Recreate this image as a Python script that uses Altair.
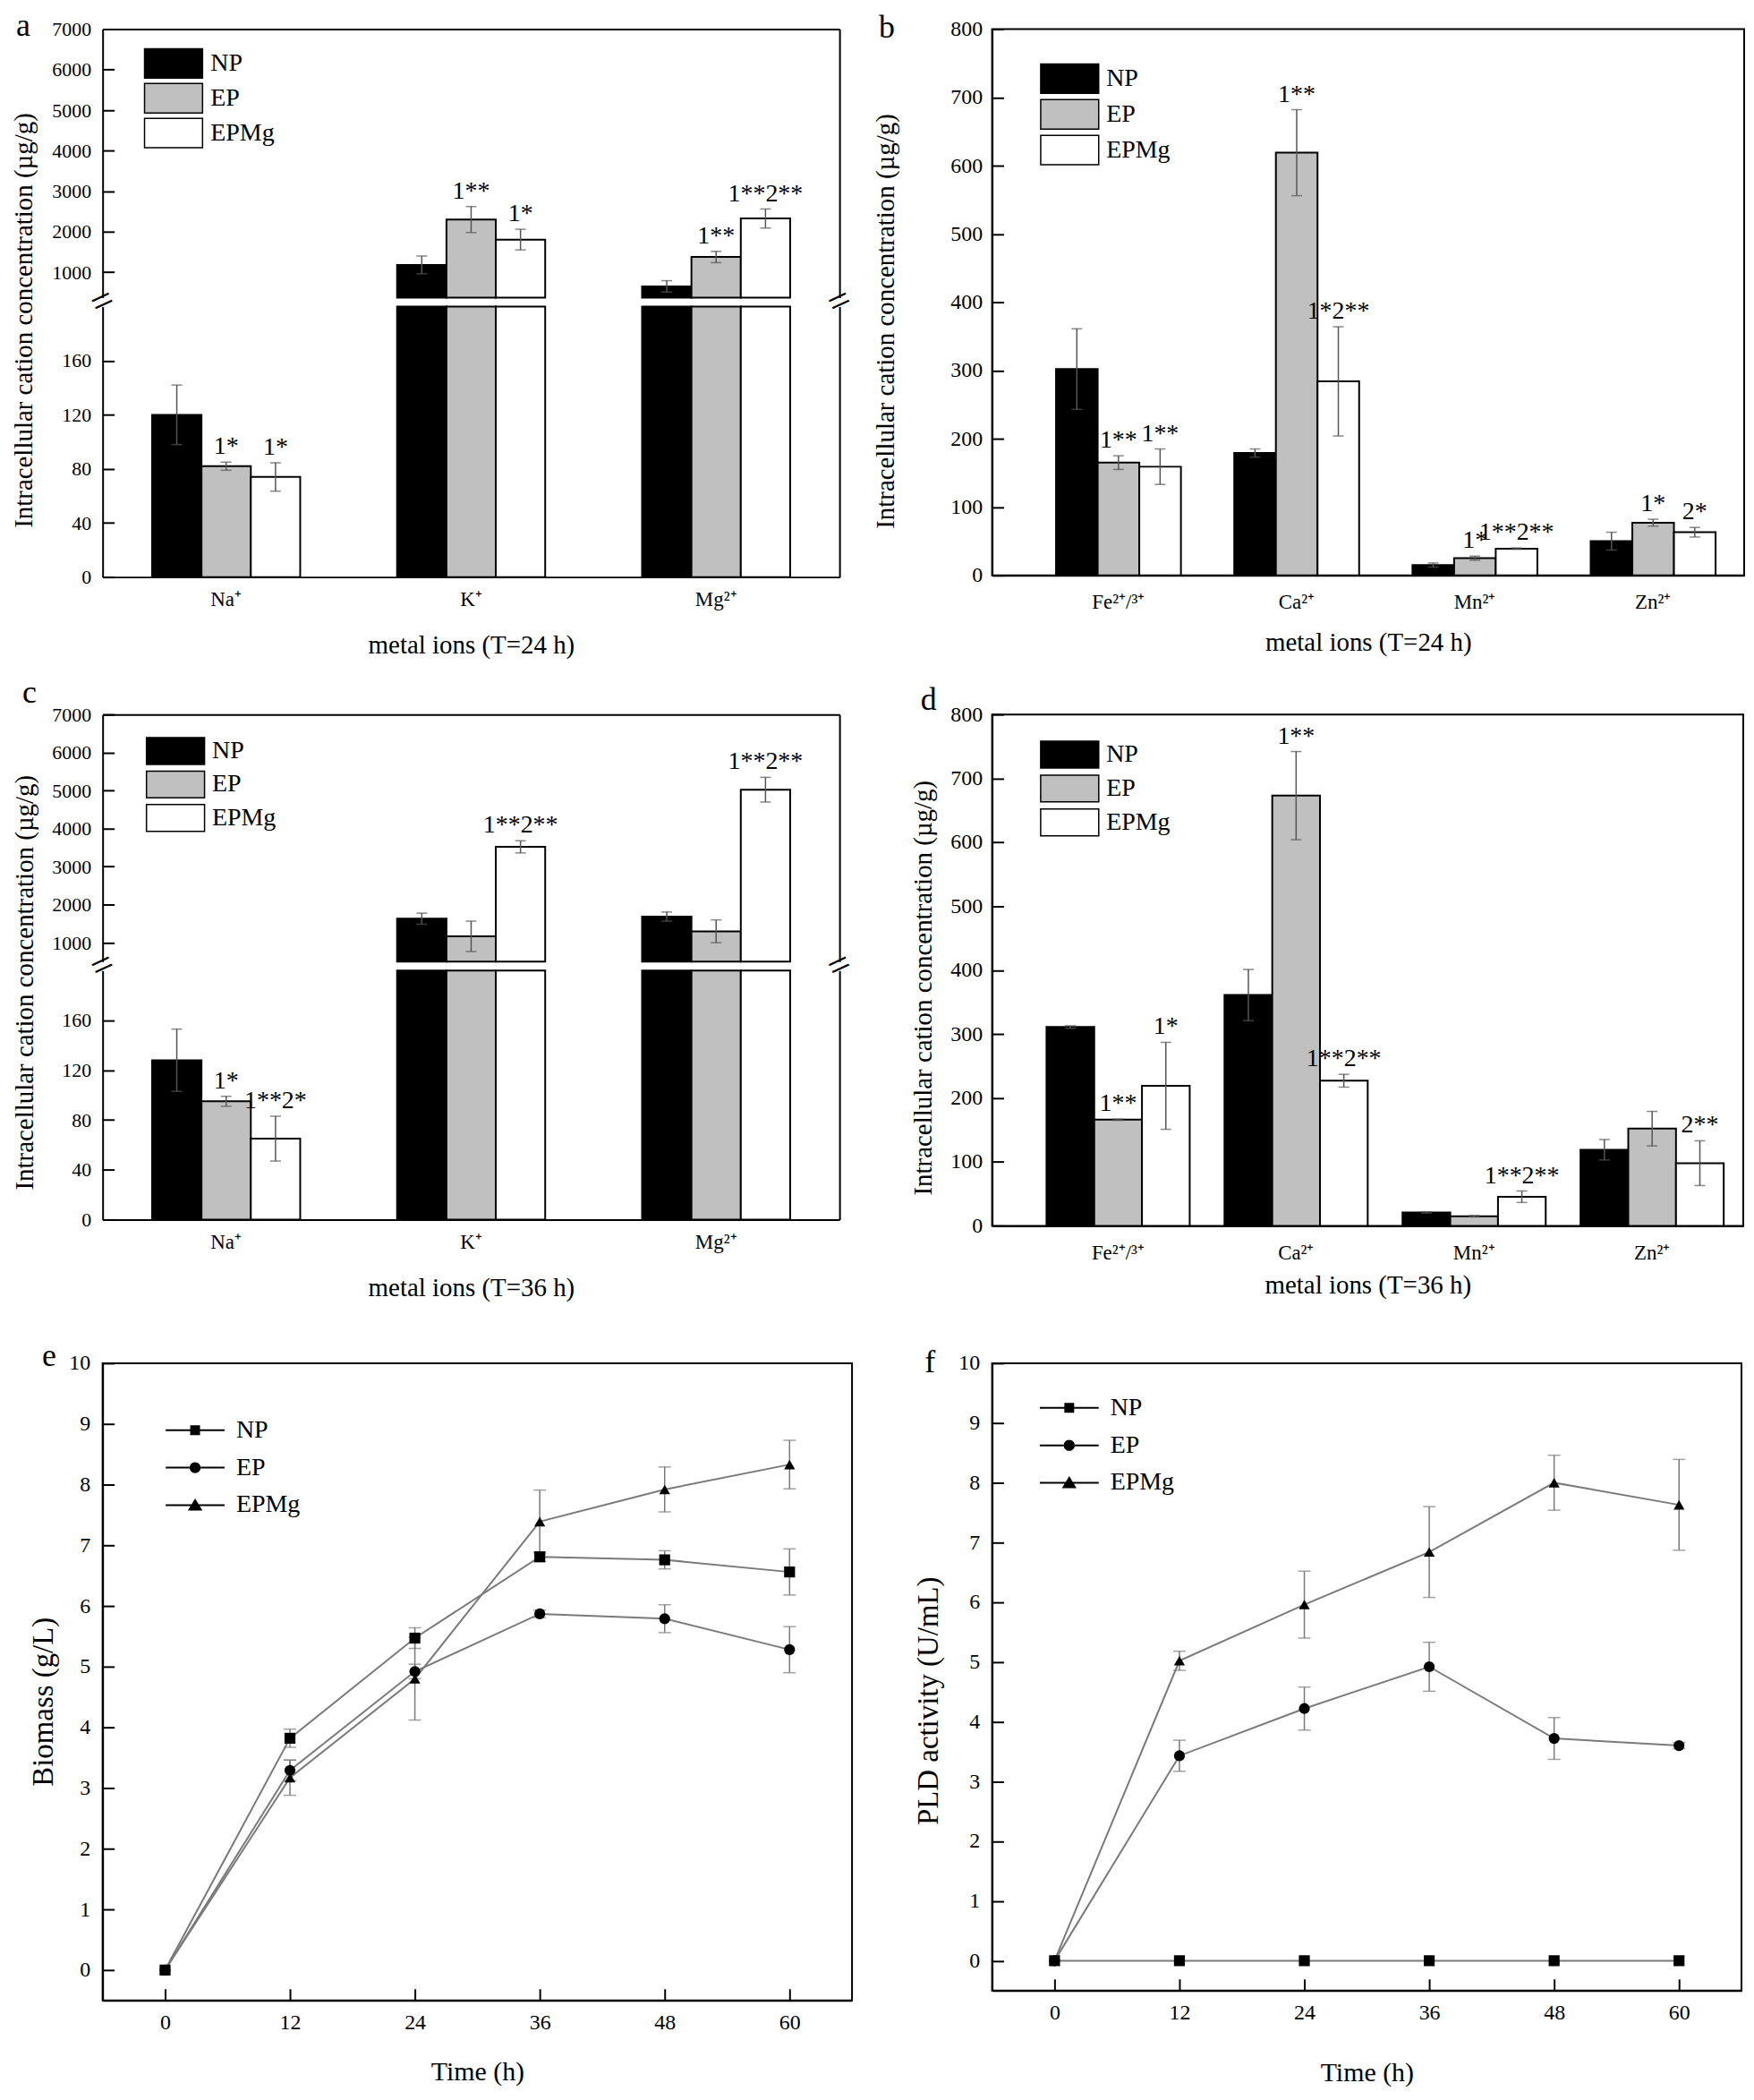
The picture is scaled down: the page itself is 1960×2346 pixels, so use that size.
import altair as alt
import pandas as pd

FONT = "Liberation Serif"
GROUPS = ["NP", "EP", "EPMg"]
BAR_FILL = ["#000000", "#c0c0c0", "#ffffff"]
ERR_COLOR = "#555555"
LINE_COLOR = "#7a7a7a"
PANEL_LETTERS = ["a", "b", "c", "d", "e", "f"]
YTITLE = "Intracellular cation concentration (µg/g)"

# ---------------- panel a : T = 24 h, major ions ----------------
a_ions = ["Na⁺", "K⁺", "Mg²⁺"]
a_np = [120, 1180, 650]
a_np_err = [22, 220, 140]
a_ep = [82, 2300, 1375]
a_ep_err = [3, 320, 140]
a_epmg = [74, 1805, 2325]
a_epmg_err = [10.5, 255, 235]
a_ep_sig = ["1*", "1**", "1**"]
a_epmg_sig = ["1*", "1*", "1**2**"]

# ---------------- panel b : T = 24 h, trace ions ----------------
b_ions = ["Fe²⁺/³⁺", "Ca²⁺", "Mn²⁺", "Zn²⁺"]
b_np = [302, 179, 15, 50]
b_np_err = [59, 6, 3, 13]
b_ep = [165, 619, 25, 77]
b_ep_err = [10, 63, 3, 5]
b_epmg = [159, 284, 39, 63]
b_epmg_err = [26, 80, 1, 7]
b_ep_sig = ["1**", "1**", "1*", "1*"]
b_epmg_sig = ["1**", "1*2**", "1**2**", "2*"]

# ---------------- panel c : T = 36 h, major ions ----------------
c_ions = ["Na⁺", "K⁺", "Mg²⁺"]
c_np = [128, 1630, 1685]
c_np_err = [25, 145, 120]
c_ep = [95, 1166, 1298]
c_ep_err = [4, 400, 300]
c_epmg = [65, 3519, 5022]
c_epmg_err = [18, 160, 325]
c_ep_sig = ["1*", "", ""]
c_epmg_sig = ["1**2*", "1**2**", "1**2**"]

# ---------------- panel d : T = 36 h, trace ions ----------------
d_ions = ["Fe²⁺/³⁺", "Ca²⁺", "Mn²⁺", "Zn²⁺"]
d_np = [311, 361, 21, 119]
d_np_err = [2, 40, 1, 16]
d_ep = [166, 673, 15, 152]
d_ep_err = [1, 69, 1, 27]
d_epmg = [219, 227, 45.5, 98]
d_epmg_err = [68, 10, 9, 35]
d_ep_sig = ["1**", "1**", "", ""]
d_epmg_sig = ["1*", "1**2**", "1**2**", "2**"]

# ---------------- panel e : biomass ----------------
times = [0, 12, 24, 36, 48, 60]
e_np = [0.0, 3.82, 5.47, 6.81, 6.76, 6.56]
e_np_err = [0, 0.15, 0.17, 0.08, 0.15, 0.38]
e_ep = [0.0, 3.29, 4.92, 5.87, 5.79, 5.28]
e_ep_err = [0, 0.17, 0.12, 0.06, 0.23, 0.38]
e_epmg = [0.0, 3.17, 4.80, 7.39, 7.92, 8.33]
e_epmg_err = [0, 0.29, 0.68, 0.52, 0.37, 0.40]

# ---------------- panel f : PLD activity ----------------
f_np = [0, 0, 0, 0, 0, 0]
f_np_err = [0, 0, 0, 0, 0, 0]
f_ep = [0.0, 3.43, 4.22, 4.92, 3.72, 3.60]
f_ep_err = [0, 0.26, 0.36, 0.41, 0.35, 0.05]
f_epmg = [0.0, 5.02, 5.96, 6.84, 8.00, 7.63]
f_epmg_err = [0, 0.16, 0.56, 0.76, 0.46, 0.76]

LEG_PATHS = [
    "M-3.3,-0.1H-0.55V0.1H-3.3Z M0.55,-0.1H3.3V0.1H0.55Z M-0.55,-0.55H0.55V0.55H-0.55Z",
    "M-3.3,-0.1H-0.6V0.1H-3.3Z M0.6,-0.1H3.3V0.1H0.6Z "
    "M-0.62,0A0.62,0.62,0,1,0,0.62,0A0.62,0.62,0,1,0,-0.62,0Z",
    "M-3.3,-0.1H-0.4V0.1H-3.3Z M0.4,-0.1H3.3V0.1H0.4Z M0,-0.75L0.82,0.6H-0.82Z",
]
BOX_PATH_L = "M-1.97,-1H1.97V1H-1.97Z"
BOX_PATH_S = "M-2.17,-1H2.17V1H-2.17Z"
NOSTROKE = alt.ViewBackground(stroke="transparent", strokeWidth=0)


def bar_frame(ions, np_v, np_e, ep_v, ep_e, mg_v, mg_e, ep_sig, mg_sig):
    rows = []
    for i, ion in enumerate(ions):
        for g, v, e, s in [("NP", np_v[i], np_e[i], ""), ("EP", ep_v[i], ep_e[i], ep_sig[i]),
                           ("EPMg", mg_v[i], mg_e[i], mg_sig[i])]:
            rows.append(dict(ion=ion, group=g, value=v, lo=v - e, hi=v + e, sig=s))
    return pd.DataFrame(rows)


def line_frame(np_v, np_e, ep_v, ep_e, mg_v, mg_e):
    rows = []
    for g, vs, es in [("NP", np_v, np_e), ("EP", ep_v, ep_e), ("EPMg", mg_v, mg_e)]:
        for t, v, e in zip(times, vs, es):
            rows.append(dict(t=t, group=g, v=v, lo=v - e, hi=v + e, e=e))
    return pd.DataFrame(rows)


def axis_y(values, size, pad, title=None, tx=0, ty=0, tsize=29):
    kw = dict(values=values, format="d", labelFont=FONT, labelFontSize=size, labelColor="black",
              labelPadding=pad, tickSize={"expr": "-13"}, tickWidth=2, tickColor="black",
              domainColor="black", domainWidth=2, grid=False, orient="left", offset=0)
    if title:
        kw.update(title=title, titleFont=FONT, titleFontSize=tsize, titleFontWeight="normal",
                  titleColor="black", titleX=tx, titleY=ty, titleAngle=270,
                  titleAlign="center", titleBaseline="middle")
    else:
        kw["title"] = None
    return alt.Axis(**kw)


def axis_x_bars(title, ty, pad):
    return alt.Axis(orient="bottom", labelFont=FONT, labelFontSize=23, labelColor="black",
                    labelPadding=pad, labelAngle=0, ticks=False, domainColor="black",
                    domainWidth=2, grid=False, title=title, titleFont=FONT, titleFontSize=29,
                    titleFontWeight="normal", titleColor="black", titleY=ty,
                    titleBaseline="middle", offset=0)


AX_TOP = alt.Axis(orient="top", labels=False, ticks=False, domainColor="black",
                  domainWidth=2, title=None, grid=False, offset=0)
AX_RIGHT = alt.Axis(orient="right", labels=False, ticks=False, domainColor="black",
                    domainWidth=2, title=None, grid=False, offset=0)


def letter(ch, x, y):
    return alt.Chart(pd.DataFrame({"lab": [ch]})).mark_text(
        font=FONT, fontSize=36, align="center", baseline="alphabetic", color="black"
    ).encode(text="lab:N", x=alt.value(x), y=alt.value(y))


def brk(x, y):
    return alt.Chart(pd.DataFrame({"m": ["="]})).mark_text(
        font=FONT, fontSize=44, angle=335, align="center", baseline="middle", color="black"
    ).encode(text="m:N", x=alt.value(x), y=alt.value(y))


def bar_legend(lx, ly, path, size, offset, rowpad):
    return alt.Legend(title=None, orient="none", legendX=lx, legendY=ly, padding=0,
                      symbolType=path, symbolSize=size, symbolStrokeColor="black",
                      symbolStrokeWidth=1.5, labelFont=FONT, labelFontSize=28,
                      labelColor="black", labelOffset=offset, rowPadding=rowpad)


def bar_layers(df, ions, xsc, group_w, ysc, yax, xax, legend, base_val, flt_bar=None,
               flt_err=None):
    base = alt.Chart(df)
    bsrc = base.transform_filter(flt_bar) if flt_bar else base
    esrc = base.transform_filter(flt_err) if flt_err else base
    X = alt.X("ion:N", sort=ions, scale=xsc, axis=xax, title=None)
    XO = alt.XOffset("group:N", sort=GROUPS,
                     scale=alt.Scale(domain=GROUPS, range=[0, group_w], paddingInner=0,
                                     paddingOuter=0))
    bars = bsrc.mark_bar(stroke="black", strokeWidth=2).encode(
        x=X, xOffset=XO, y=alt.Y("value:Q", scale=ysc, axis=yax), y2=alt.datum(base_val),
        fill=alt.Fill("group:N", sort=GROUPS, scale=alt.Scale(domain=GROUPS, range=BAR_FILL),
                      legend=legend))
    rule = esrc.mark_rule(color=ERR_COLOR, strokeWidth=1.5).encode(
        x=X, xOffset=XO, y=alt.Y("lo:Q", scale=ysc, axis=yax), y2="hi:Q")
    cap_lo = esrc.mark_tick(color=ERR_COLOR, thickness=1.5, size=12).encode(
        x=X, xOffset=XO, y=alt.Y("lo:Q", scale=ysc, axis=yax))
    cap_hi = esrc.mark_tick(color=ERR_COLOR, thickness=1.5, size=12).encode(
        x=X, xOffset=XO, y=alt.Y("hi:Q", scale=ysc, axis=yax))
    txt = esrc.transform_filter("datum.sig != ''").mark_text(
        font=FONT, fontSize=28, baseline="bottom", dy=-3, color="black"
    ).encode(x=X, xOffset=XO, y=alt.Y("hi:Q", scale=ysc, axis=yax), text="sig:N")
    return [bars, rule, cap_lo, cap_hi, txt]


def frame_layer(ions, val, xsc, xax, ysc):
    return alt.Chart(pd.DataFrame({"ion": [ions[0]], "value": [val]})).mark_point(
        opacity=0).encode(
        x=alt.X("ion:N", sort=ions, scale=xsc, axis=xax),
        y=alt.Y("value:Q", scale=ysc, axis=AX_RIGHT))


def broken_panel(df, ions, xsc, group_w, up_dom, up_h, gap, lo_dom, lo_h, up_vals, lo_vals,
                 width, ytitle_xy, xtitle, xtitle_y, legend, let):
    H = up_h + gap + lo_h
    ysc_u = alt.Scale(domain=up_dom, range=[up_h, 0], nice=False, zero=False, clamp=True)
    ysc_l = alt.Scale(domain=lo_dom, range=[H, up_h + gap], nice=False, zero=False, clamp=True)
    yax_u = axis_y(up_vals, 22, 26)
    yax_l = axis_y(lo_vals, 22, 26, YTITLE, *ytitle_xy)
    up_layers = bar_layers(df, ions, xsc, group_w, ysc_u, yax_u, None, legend, up_dom[0],
                           flt_bar=f"datum.value > {up_dom[0]}",
                           flt_err=f"datum.value > {up_dom[0]}")
    lo_layers = bar_layers(df, ions, xsc, group_w, ysc_l, yax_l,
                           axis_x_bars(xtitle, xtitle_y, 14), legend, lo_dom[0],
                           flt_err=f"datum.hi <= {lo_dom[1]}")
    mid = up_h + gap / 2
    L1 = alt.layer(*up_layers, let)
    L2 = alt.layer(*lo_layers, brk(0, mid), brk(width, mid))
    L3 = frame_layer(ions, up_dom[0], xsc, AX_TOP, ysc_u)
    L4 = frame_layer(ions, lo_dom[0], xsc, None, ysc_l)
    return alt.layer(L1, L2, L3, L4).resolve_scale(y="independent", x="independent").properties(
        width=width, height=H, view=NOSTROKE)


def simple_bar_panel(df, ions, xsc, group_w, h, width, ytitle_xy, xtitle, xtitle_y, legend,
                     let):
    ysc = alt.Scale(domain=[0, 800], nice=False)
    yax = axis_y(list(range(0, 801, 100)), 24, 24, YTITLE, *ytitle_xy)
    xax = axis_x_bars(xtitle, xtitle_y, 19)
    layers = bar_layers(df, ions, xsc, group_w, ysc, yax, xax, legend, 0)
    return alt.layer(*layers, let).properties(width=width, height=h)


def line_panel(df, ytitle, ytitle_xy, xtitle_y, lx, ly, let, width, h):
    base = alt.Chart(df)
    xsc = alt.Scale(domain=[-6, 66], nice=False, zero=False)
    ysc = alt.Scale(domain=[-0.5, 10], nice=False, zero=False)
    xax = alt.Axis(values=times, format="d", labelFont=FONT, labelFontSize=24,
                   labelColor="black", labelPadding=26, tickSize={"expr": "-13"}, tickWidth=2,
                   tickColor="black", domainColor="black", domainWidth=2, grid=False,
                   title="Time (h)", titleFont=FONT, titleFontSize=30,
                   titleFontWeight="normal", titleColor="black", titleY=xtitle_y,
                   titleBaseline="middle")
    yax = axis_y(list(range(0, 11)), 24, 27, ytitle, *ytitle_xy, tsize=33)
    X = alt.X("t:Q", scale=xsc, axis=xax)
    Y = alt.Y("v:Q", scale=ysc, axis=yax)
    line = base.mark_line(color=LINE_COLOR, strokeWidth=2).encode(x=X, y=Y, detail="group:N")
    eb = base.transform_filter("datum.e > 0")
    rule = eb.mark_rule(color=LINE_COLOR, strokeWidth=1.5).encode(
        x=X, y=alt.Y("lo:Q", scale=ysc, axis=yax), y2="hi:Q")
    cap_lo = eb.mark_tick(color=LINE_COLOR, thickness=1.5, size=14, orient="horizontal").encode(
        x=X, y=alt.Y("lo:Q", scale=ysc, axis=yax))
    cap_hi = eb.mark_tick(color=LINE_COLOR, thickness=1.5, size=14, orient="horizontal").encode(
        x=X, y=alt.Y("hi:Q", scale=ysc, axis=yax))
    pts = base.mark_point(filled=True, color="black", opacity=1, size=150).encode(
        x=X, y=Y,
        shape=alt.Shape("group:N", sort=GROUPS,
                        scale=alt.Scale(domain=GROUPS, range=["square", "circle", "triangle-up"]),
                        legend=None))
    leg = base.mark_point(filled=True, color="black", opacity=0).encode(
        x=X, y=Y,
        shape=alt.Shape("group:N", sort=GROUPS, scale=alt.Scale(domain=GROUPS, range=LEG_PATHS),
                        legend=alt.Legend(title=None, orient="none", legendX=lx, legendY=ly,
                                          padding=0, symbolSize=400, symbolOpacity=1,
                                          symbolFillColor="black", labelFont=FONT,
                                          labelFontSize=28, labelColor="black", labelOffset=32,
                                          rowPadding=14)))
    return alt.layer(line, rule, cap_lo, cap_hi, pts, leg, let).resolve_scale(
        shape="independent").properties(width=width, height=h)


df_a = bar_frame(a_ions, a_np, a_np_err, a_ep, a_ep_err, a_epmg, a_epmg_err, a_ep_sig, a_epmg_sig)
df_b = bar_frame(b_ions, b_np, b_np_err, b_ep, b_ep_err, b_epmg, b_epmg_err, b_ep_sig, b_epmg_sig)
df_c = bar_frame(c_ions, c_np, c_np_err, c_ep, c_ep_err, c_epmg, c_epmg_err, c_ep_sig, c_epmg_sig)
df_d = bar_frame(d_ions, d_np, d_np_err, d_ep, d_ep_err, d_epmg, d_epmg_err, d_ep_sig, d_epmg_sig)
df_e = line_frame(e_np, e_np_err, e_ep, e_ep_err, e_epmg, e_epmg_err)
df_f = line_frame(f_np, f_np_err, f_ep, f_ep_err, f_epmg, f_epmg_err)

xsc_a = alt.Scale(domain=a_ions, paddingInner=0.396, paddingOuter=0.202)
xsc_c = alt.Scale(domain=c_ions, paddingInner=0.396, paddingOuter=0.202)
xsc_b = alt.Scale(domain=b_ions, paddingInner=0.30, paddingOuter=0.26, align=0.69)
xsc_d = alt.Scale(domain=d_ions, paddingInner=0.196, paddingOuter=0.208, align=0.735)

panel_a = broken_panel(df_a, a_ions, xsc_a, 166, [370, 7000], 301, 10, [0, 200], 303,
                       list(range(1000, 7001, 1000)), [0, 40, 80, 120, 160], 826,
                       (-88, 326), "metal ions (T=24 h)", 76,
                       bar_legend(62, 21, BOX_PATH_L, 1089, 24, 0),
                       letter(PANEL_LETTERS[0], -89, 8))
panel_b = simple_bar_panel(df_b, b_ions, xsc_b, 140, 612, 843, (-119, 327),
                           "metal ions (T=24 h)", 75,
                           bar_legend(69.5, 38, BOX_PATH_L, 1089, 23.5, 1),
                           letter(PANEL_LETTERS[1], -118, 10))
panel_c = broken_panel(df_c, c_ions, xsc_c, 166, [500, 7000], 277, 10, [0, 200], 279,
                       list(range(1000, 7001, 1000)), [0, 40, 80, 120, 160], 826,
                       (-87, 300), "metal ions (T=36 h)", 76,
                       bar_legend(65.7, 25, BOX_PATH_S, 900, 25, 1.5),
                       letter(PANEL_LETTERS[2], -82, -13))
panel_d = simple_bar_panel(df_d, d_ions, xsc_d, 160.5, 573, 842, (-77, 306),
                           "metal ions (T=36 h)", 66,
                           bar_legend(71, 29, BOX_PATH_S, 900, 25, 2),
                           letter(PANEL_LETTERS[3], -71, -5))
panel_e = line_panel(df_e, "Biomass (g/L)", (-66, 379), 80, 89.7, 61,
                     letter(PANEL_LETTERS[4], -60, 3), 840, 714)
panel_f = line_panel(df_f, "PLD activity (U/mL)", (-71.5, 378), 92, 72.5, 36,
                     letter(PANEL_LETTERS[5], -69.5, 10), 840, 703)

chart = alt.concat(panel_a, panel_b, panel_c, panel_d, panel_e, panel_f, columns=2,
                   spacing={"row": 154, "column": 157}, bounds="flush").resolve_scale(
    fill="independent", shape="independent", xOffset="independent")
chart = chart.properties(padding={"left": 5, "top": 0, "right": 2, "bottom": 2}).configure_view(
    stroke="black", strokeWidth=2)

chart.save("out.html", embed_options={"renderer": "svg", "actions": False})
